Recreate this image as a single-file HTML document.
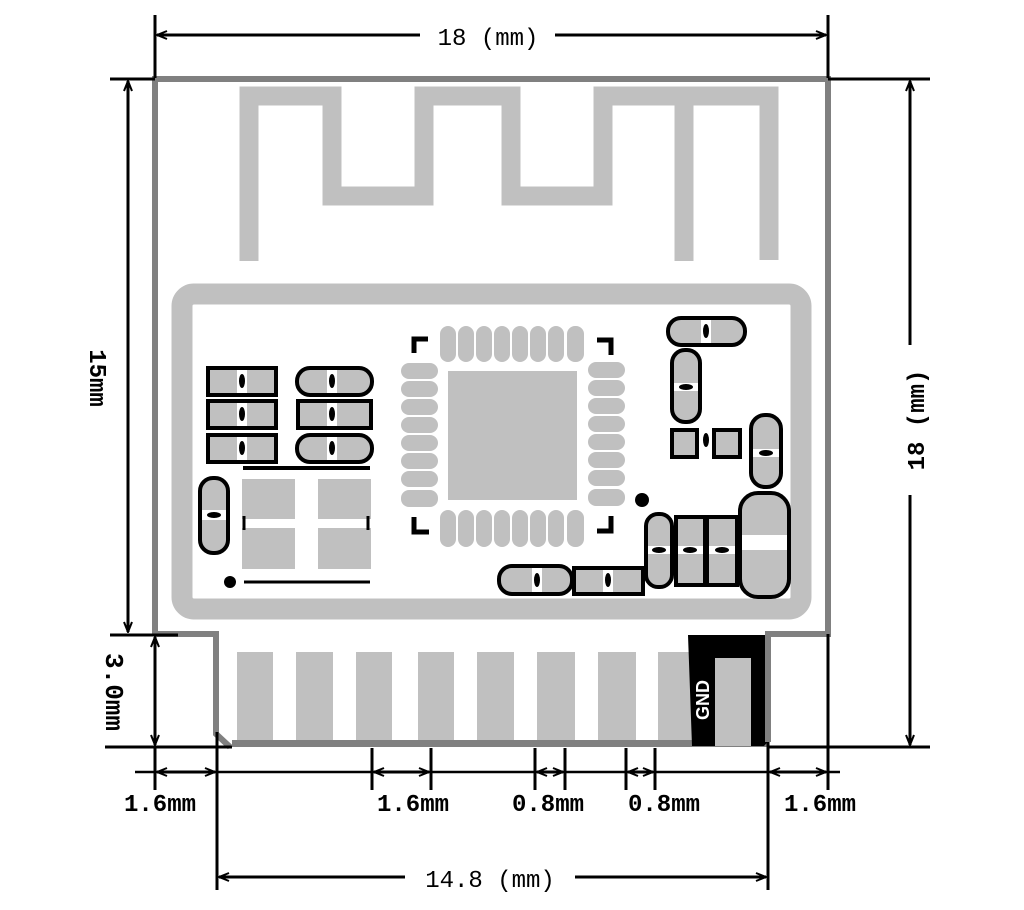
<!DOCTYPE html>
<html><head><meta charset="utf-8"><style>
html,body{margin:0;padding:0;background:#fff;}
svg{display:block;}
text{font-family:"Liberation Mono","DejaVu Sans Mono",monospace;fill:#000;}
</style></head><body>
<svg width="1024" height="910" viewBox="0 0 1024 910" xmlns="http://www.w3.org/2000/svg">
<defs>
<marker id="a" viewBox="0 0 12 12" refX="11" refY="6" markerWidth="12" markerHeight="12" markerUnits="userSpaceOnUse" orient="auto-start-reverse">
<path d="M1,2 L11,6 L1,10" fill="none" stroke="#000" stroke-width="2"/>
</marker>
</defs>
<rect width="1024" height="910" fill="#fff"/>

<!-- antenna -->
<path d="M249,261 V96 H332 V196 H424 V96 H511 V196 H603 V96 H769 V260 M684,96 V261" fill="none" stroke="#c0c0c0" stroke-width="19"/>

<!-- inner frame -->
<rect x="182" y="294" width="619" height="315" rx="12" fill="none" stroke="#c0c0c0" stroke-width="21"/>

<!-- pins -->
<rect x="232" y="740" width="536" height="7" fill="#808080"/>
<g fill="#c0c0c0">
<rect x="237" y="652" width="36" height="88"/><rect x="296" y="652" width="37" height="88"/>
<rect x="356" y="652" width="36" height="88"/><rect x="418" y="652" width="36" height="88"/>
<rect x="477" y="652" width="37" height="88"/><rect x="537" y="652" width="38" height="88"/>
<rect x="598" y="652" width="38" height="88"/><rect x="658" y="652" width="37" height="88"/>
</g>
<!-- GND -->
<path d="M688,635 H771 V738 L764,746 H751 V658 H715 V746 H692 Z" fill="#000"/>
<rect x="715" y="658" width="36" height="88" fill="#c0c0c0"/>
<text x="0" y="0" transform="translate(709,700) rotate(-90)" text-anchor="middle" font-weight="bold" font-size="18" style="fill:#fff;font-family:'Liberation Sans',sans-serif">GND</text>

<!-- board outline -->
<path d="M155,634 V79 H828 V634 H768 V742" fill="none" stroke="#808080" stroke-width="6"/>
<path d="M155,634 H216 V734 L230,747" fill="none" stroke="#808080" stroke-width="6"/>

<!-- chip -->
<rect x="448" y="371" width="129" height="129" fill="#c0c0c0"/>
<g fill="#c0c0c0">
<rect x="440" y="326" width="16" height="36" rx="8"/><rect x="458" y="326" width="16" height="36" rx="8"/>
<rect x="476" y="326" width="16" height="36" rx="8"/><rect x="494" y="326" width="16" height="36" rx="8"/>
<rect x="512" y="326" width="16" height="36" rx="8"/><rect x="530" y="326" width="16" height="36" rx="8"/>
<rect x="548" y="326" width="16" height="36" rx="8"/><rect x="567" y="326" width="17" height="36" rx="8"/>
<rect x="440" y="510" width="16" height="37" rx="8"/><rect x="458" y="510" width="16" height="37" rx="8"/>
<rect x="476" y="510" width="16" height="37" rx="8"/><rect x="494" y="510" width="16" height="37" rx="8"/>
<rect x="512" y="510" width="16" height="37" rx="8"/><rect x="530" y="510" width="16" height="37" rx="8"/>
<rect x="548" y="510" width="16" height="37" rx="8"/><rect x="567" y="510" width="17" height="37" rx="8"/>
<rect x="401" y="363" width="37" height="16" rx="8"/><rect x="401" y="381" width="37" height="16" rx="8"/>
<rect x="401" y="399" width="37" height="16" rx="8"/><rect x="401" y="417" width="37" height="16" rx="8"/>
<rect x="401" y="435" width="37" height="16" rx="8"/><rect x="401" y="453" width="37" height="16" rx="8"/>
<rect x="401" y="471" width="37" height="16" rx="8"/><rect x="401" y="490" width="37" height="17" rx="8"/>
<rect x="588" y="362" width="37" height="16" rx="8"/><rect x="588" y="380" width="37" height="16" rx="8"/>
<rect x="588" y="398" width="37" height="16" rx="8"/><rect x="588" y="416" width="37" height="16" rx="8"/>
<rect x="588" y="434" width="37" height="16" rx="8"/><rect x="588" y="452" width="37" height="16" rx="8"/>
<rect x="588" y="470" width="37" height="16" rx="8"/><rect x="588" y="489" width="37" height="17" rx="8"/>
</g>
<g fill="none" stroke="#000" stroke-width="5">
<path d="M414,353 V339 H428"/><path d="M414,517 V532 H429"/>
<path d="M597,340 H611 V355"/><path d="M597,531 H611 V516"/>
</g>
<circle cx="642" cy="500" r="7" fill="#000"/>

<!-- left components -->
<g stroke="#000" stroke-width="4" fill="#c0c0c0">
<rect x="208" y="368" width="68" height="27"/><rect x="208" y="401" width="68" height="27"/><rect x="208" y="435" width="68" height="27"/>
<rect x="297" y="368" width="75" height="27" rx="13"/><rect x="298" y="401" width="73" height="27"/><rect x="297" y="435" width="75" height="27" rx="13"/>
<rect x="200" y="478" width="28" height="75" rx="13"/>
</g>
<g fill="#fff">
<rect x="237" y="370" width="10" height="23"/><rect x="237" y="403" width="10" height="23"/><rect x="237" y="437" width="10" height="23"/>
<rect x="327" y="370" width="10" height="23"/><rect x="327" y="403" width="10" height="23"/><rect x="327" y="437" width="10" height="23"/>
<rect x="202" y="510" width="24" height="10"/>
</g>
<g fill="#000">
<ellipse cx="242" cy="381" rx="3" ry="7"/><ellipse cx="242" cy="414" rx="3" ry="7"/><ellipse cx="242" cy="448" rx="3" ry="7"/>
<ellipse cx="332" cy="381" rx="3" ry="7"/><ellipse cx="332" cy="414" rx="3" ry="7"/><ellipse cx="332" cy="448" rx="3" ry="7"/>
<ellipse cx="214" cy="515" rx="7" ry="3"/>
</g>
<line x1="243" y1="468" x2="370" y2="468" stroke="#000" stroke-width="4"/>
<g fill="#c0c0c0">
<rect x="242" y="479" width="53" height="40"/><rect x="242" y="528" width="53" height="41"/>
<rect x="318" y="479" width="53" height="40"/><rect x="318" y="528" width="53" height="41"/>
</g>
<line x1="244" y1="516" x2="244" y2="530" stroke="#000" stroke-width="3"/>
<line x1="368" y1="516" x2="368" y2="530" stroke="#000" stroke-width="3"/>
<circle cx="230" cy="582" r="6" fill="#000"/>
<line x1="244" y1="582" x2="370" y2="582" stroke="#000" stroke-width="3"/>

<!-- right components -->
<g stroke="#000" stroke-width="4" fill="#c0c0c0">
<rect x="668" y="318" width="77" height="27" rx="13"/>
<rect x="672" y="350" width="28" height="72" rx="13"/>
<rect x="672" y="430" width="25" height="27"/><rect x="714" y="430" width="26" height="27"/>
<rect x="751" y="415" width="30" height="72" rx="14"/>
<rect x="740" y="493" width="49" height="104" rx="18"/>
<rect x="646" y="514" width="26" height="73" rx="12"/>
<rect x="676" y="517" width="29" height="68"/><rect x="707" y="517" width="30" height="68"/>
<rect x="499" y="566" width="73" height="28" rx="13"/><rect x="574" y="568" width="69" height="26"/>
</g>
<g fill="#fff">
<rect x="701" y="320" width="10" height="23"/>
<rect x="674" y="383" width="24" height="8"/>
<rect x="753" y="449" width="26" height="8"/>
<rect x="742" y="535" width="45" height="15"/>
<rect x="648" y="546" width="22" height="8"/><rect x="678" y="546" width="25" height="8"/><rect x="709" y="546" width="26" height="8"/>
<rect x="532" y="568" width="10" height="24"/><rect x="603" y="570" width="10" height="22"/>
</g>
<g fill="#000">
<ellipse cx="706" cy="331" rx="3" ry="7"/><ellipse cx="686" cy="387" rx="7" ry="3"/>
<ellipse cx="706" cy="440" rx="3" ry="7"/><ellipse cx="766" cy="453" rx="7" ry="3"/>
<ellipse cx="659" cy="550" rx="7" ry="3"/><ellipse cx="690" cy="550" rx="7" ry="3"/><ellipse cx="722" cy="550" rx="7" ry="3"/>
<ellipse cx="537" cy="580" rx="3" ry="7"/><ellipse cx="608" cy="580" rx="3" ry="7"/>
</g>

<!-- dimension lines -->
<g stroke="#000" stroke-width="3" fill="none">
<line x1="155" y1="15" x2="155" y2="78"/><line x1="828" y1="15" x2="828" y2="78"/>
<line x1="110" y1="79" x2="155" y2="79"/><line x1="828" y1="79" x2="930" y2="79"/>
<line x1="110" y1="635" x2="178" y2="635"/>
<line x1="105" y1="747" x2="232" y2="747"/><line x1="768" y1="747" x2="930" y2="747"/>
<line x1="217" y1="732" x2="217" y2="890"/><line x1="768" y1="742" x2="768" y2="890"/>
<line x1="828" y1="634" x2="828" y2="790"/>
<line x1="135" y1="772" x2="840" y2="772" stroke-width="2.5"/>
<line x1="372" y1="748" x2="372" y2="790"/><line x1="431" y1="748" x2="431" y2="790"/>
<line x1="535" y1="748" x2="535" y2="790"/><line x1="565" y1="748" x2="565" y2="790"/>
<line x1="626" y1="748" x2="626" y2="790"/><line x1="655" y1="748" x2="655" y2="790"/>
<line x1="155" y1="747" x2="155" y2="790"/>
</g>
<g stroke="#000" stroke-width="3" fill="none" marker-end="url(#a)">
<line x1="420" y1="35" x2="157" y2="35"/><line x1="555" y1="35" x2="826" y2="35"/>
<line x1="128" y1="360" x2="128" y2="81"/><line x1="128" y1="360" x2="128" y2="632"/>
<line x1="910" y1="345" x2="910" y2="81"/><line x1="910" y1="495" x2="910" y2="745"/>
<line x1="155" y1="690" x2="155" y2="637"/><line x1="155" y1="690" x2="155" y2="745"/>
<line x1="405" y1="877" x2="219" y2="877"/><line x1="575" y1="877" x2="766" y2="877"/>
<line x1="190" y1="772" x2="157" y2="772"/><line x1="190" y1="772" x2="215" y2="772"/>
<line x1="400" y1="772" x2="374" y2="772"/><line x1="400" y1="772" x2="429" y2="772"/>
<line x1="550" y1="772" x2="537" y2="772"/><line x1="550" y1="772" x2="563" y2="772"/>
<line x1="640" y1="772" x2="628" y2="772"/><line x1="640" y1="772" x2="653" y2="772"/>
<line x1="798" y1="772" x2="770" y2="772"/><line x1="798" y1="772" x2="826" y2="772"/>
</g>

<!-- labels -->
<g font-size="24">
<text x="488" y="45" text-anchor="middle">18 (mm)</text>
<text x="490" y="887" text-anchor="middle">14.8 (mm)</text>
<text x="160" y="811" text-anchor="middle" font-weight="bold">1.6mm</text>
<text x="413" y="811" text-anchor="middle" font-weight="bold">1.6mm</text>
<text x="548" y="811" text-anchor="middle" font-weight="bold">0.8mm</text>
<text x="664" y="811" text-anchor="middle" font-weight="bold">0.8mm</text>
<text x="820" y="811" text-anchor="middle" font-weight="bold">1.6mm</text>
<text transform="translate(90,378) rotate(90)" text-anchor="middle" font-weight="bold">15mm</text>
<text transform="translate(106,692) rotate(90)" text-anchor="middle" font-weight="bold" font-size="26">3.0mm</text>
<text transform="translate(924,420) rotate(-90)" text-anchor="middle" font-weight="bold">18 (mm)</text>
</g>
</svg>
</body></html>
